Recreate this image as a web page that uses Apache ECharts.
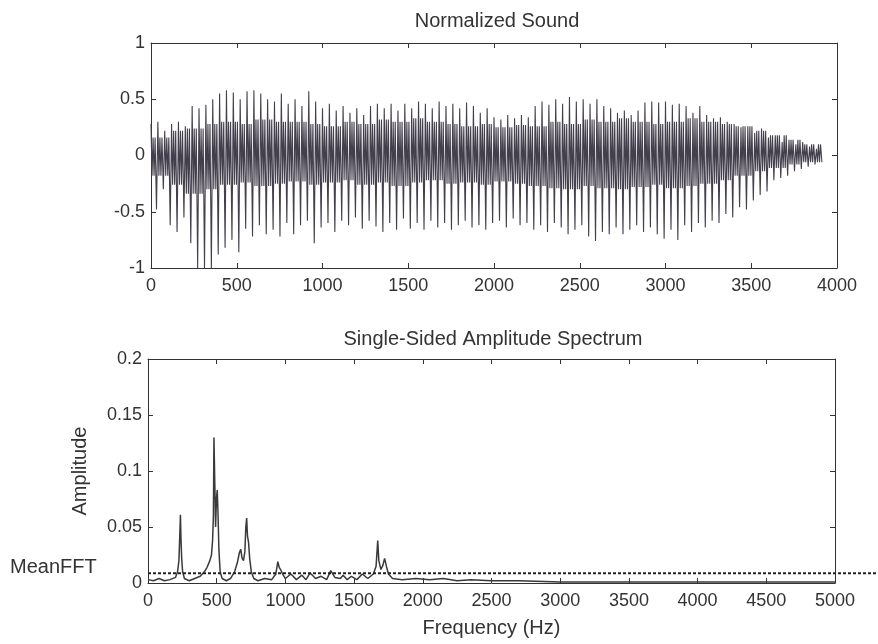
<!DOCTYPE html>
<html>
<head>
<meta charset="utf-8">
<script src="https://cdn.jsdelivr.net/npm/echarts@6/dist/echarts.min.js"></script>
<style>
html,body{margin:0;padding:0;background:#fff;}
#c{width:878px;height:644px;}
</style>
</head>
<body>
<div id="c"></div>
<script>
// ---------------- data ----------------
const soundTitle = 'Normalized Sound';
const specTitle = 'Single-Sided Amplitude Spectrum';
const SAMPLE_STEP = 40; // samples between successive pitch pulses
// positive peak of each pitch period
const waveHighs = [0.28,0.3,0.22,0.28,0.3,0.26,0.44,0.42,0.45,0.5,
  0.55,0.58,0.56,0.5,0.57,0.58,0.55,0.5,0.48,0.55,
  0.46,0.5,0.44,0.57,0.48,0.42,0.46,0.4,0.44,0.38,
  0.42,0.36,0.44,0.46,0.42,0.46,0.4,0.46,0.42,0.48,
  0.46,0.42,0.48,0.44,0.46,0.42,0.47,0.44,0.38,0.42,
  0.34,0.32,0.36,0.33,0.36,0.34,0.44,0.48,0.45,0.5,
  0.46,0.52,0.48,0.5,0.46,0.5,0.44,0.42,0.38,0.4,
  0.36,0.4,0.47,0.48,0.47,0.48,0.45,0.46,0.44,0.38,
  0.44,0.36,0.33,0.34,0.3,0.28,0.25,0.26,0.2,0.24,
  0.16,0.18,0.12,0.14,0.1,0.12,0.08,0.06];
// negative spike of each pitch period
const waveLows = [-0.48,-0.3,-0.62,-0.68,-0.55,-0.78,-1.0,-1.0,-1.0,-0.88,
  -0.82,-0.75,-0.86,-0.65,-0.72,-0.62,-0.7,-0.66,-0.72,-0.6,
  -0.7,-0.62,-0.58,-0.78,-0.64,-0.6,-0.68,-0.58,-0.62,-0.55,
  -0.65,-0.58,-0.63,-0.68,-0.6,-0.66,-0.56,-0.65,-0.6,-0.66,
  -0.58,-0.64,-0.6,-0.66,-0.62,-0.58,-0.64,-0.62,-0.66,-0.6,
  -0.58,-0.64,-0.56,-0.62,-0.6,-0.66,-0.62,-0.68,-0.6,-0.64,
  -0.7,-0.66,-0.62,-0.72,-0.76,-0.68,-0.7,-0.64,-0.7,-0.66,
  -0.62,-0.68,-0.64,-0.7,-0.74,-0.66,-0.75,-0.62,-0.68,-0.6,
  -0.64,-0.58,-0.6,-0.52,-0.55,-0.46,-0.48,-0.4,-0.35,-0.32,
  -0.22,-0.2,-0.18,-0.14,-0.12,-0.1,-0.08,-0.06];
// dense inner band, one value per 100 samples
const BAND_STEP = 100;
const bandTop = [0.16,0.22,0.24,0.28,0.3,0.28,0.32,0.3,0.3,0.28,
  0.26,0.3,0.28,0.32,0.3,0.33,0.3,0.28,0.26,0.28,
  0.25,0.27,0.26,0.3,0.28,0.32,0.3,0.33,0.3,0.28,
  0.3,0.33,0.3,0.28,0.26,0.22,0.18,0.14,0.1,0.06];
const bandBottom = [-0.18,-0.26,-0.34,-0.3,-0.26,-0.24,-0.27,-0.25,-0.23,-0.26,
  -0.24,-0.22,-0.26,-0.24,-0.27,-0.24,-0.22,-0.25,-0.24,-0.26,
  -0.23,-0.25,-0.27,-0.29,-0.3,-0.27,-0.29,-0.3,-0.28,-0.26,
  -0.29,-0.27,-0.25,-0.22,-0.18,-0.14,-0.11,-0.08,-0.06,-0.04];

const specFreq = [0,40,80,120,160,200,215,225,232,236,240,245,252,265,300,340,380,410,430,450,
  462,470,476,480,486,492,498,504,510,516,525,540,570,600,630,650,665,675,685,695,
  705,712,718,724,732,740,752,770,800,850,900,930,945,955,965,980,1000,1040,1080,1120,
  1150,1180,1220,1260,1300,1330,1360,1400,1420,1450,1480,1520,1560,1600,1640,1660,1672,1680,1695,1710,
  1722,1735,1750,1780,1850,1950,2050,2150,2250,2350,2500,2700,3000,3500,4000,4500,5000];
const specAmp = [0.003,0.002,0.004,0.002,0.003,0.005,0.01,0.02,0.045,0.061,0.04,0.022,0.01,0.004,0.002,0.004,0.006,0.01,0.014,0.02,
  0.025,0.038,0.06,0.13,0.09,0.05,0.075,0.083,0.06,0.03,0.01,0.004,0.002,0.004,0.01,0.018,0.027,0.03,0.022,0.02,
  0.028,0.05,0.058,0.042,0.036,0.022,0.01,0.004,0.002,0.004,0.003,0.008,0.019,0.014,0.012,0.008,0.004,0.008,0.003,0.007,
  0.003,0.009,0.004,0.006,0.003,0.011,0.005,0.004,0.007,0.003,0.006,0.003,0.008,0.004,0.008,0.015,0.038,0.02,0.012,0.016,
  0.022,0.015,0.008,0.004,0.003,0.004,0.003,0.004,0.002,0.003,0.002,0.002,0.001,0.001,0.001,0.001,0.001];
const meanFFT = 0.0087;

const soundXTicks = {min:0, max:4000, interval:500};
const soundYTicks = {min:-1, max:1, interval:0.5};
const specXTicks = {min:0, max:5000, interval:500};
const specYTicks = {min:0, max:0.2, interval:0.05};

// ---------------- build ----------------
const waveData = [];
for (let i = 0; i < waveHighs.length; i++) {
  const x0 = i * SAMPLE_STEP;
  const b = Math.min(bandTop.length - 1, Math.floor(x0 / BAND_STEP));
  waveData.push([x0, waveHighs[i]]);
  waveData.push([x0 + SAMPLE_STEP * 0.15, bandBottom[b]]);
  waveData.push([x0 + SAMPLE_STEP * 0.3, bandTop[b]]);
  waveData.push([x0 + SAMPLE_STEP * 0.45, bandBottom[b]]);
  waveData.push([x0 + SAMPLE_STEP * 0.6, bandTop[b]]);
  waveData.push([x0 + SAMPLE_STEP * 0.8, waveLows[i]]);
}
const specData = specFreq.map((f, i) => [f, specAmp[i]]);

const FONT = 'Liberation Sans, Arial, sans-serif';
const TXT = '#333';
const AX = '#333';
const fmt = v => String(+(+v).toFixed(2));

function xAx(grid, t, pos, labels, extra) {
  return Object.assign({
    type: 'value', gridIndex: grid, position: pos, min: t.min, max: t.max, interval: t.interval,
    axisLine: {show: true, onZero: false, lineStyle: {color: AX, width: 1}},
    axisTick: {show: true, inside: true, length: 5, lineStyle: {color: AX}},
    axisLabel: {show: labels, color: TXT, fontSize: 18, fontFamily: FONT, margin: 9, formatter: fmt},
    splitLine: {show: false}
  }, extra || {});
}
function yAx(grid, t, pos, labels, extra) {
  return Object.assign({
    type: 'value', gridIndex: grid, position: pos, min: t.min, max: t.max, interval: t.interval,
    axisLine: {show: true, onZero: false, lineStyle: {color: AX, width: 1}},
    axisTick: {show: true, inside: true, length: 5, lineStyle: {color: AX}},
    axisLabel: {show: labels, color: TXT, fontSize: 18, fontFamily: FONT, margin: 6, formatter: fmt},
    splitLine: {show: false}
  }, extra || {});
}

const chart = echarts.init(document.getElementById('c'), null, {renderer: 'canvas'});
chart.setOption({
  animation: false,
  backgroundColor: '#fff',
  textStyle: {fontFamily: FONT},
  title: [
    {text: soundTitle, left: 492, top: 6, textAlign: 'center',
     textStyle: {fontSize: 20, fontWeight: 'normal', color: TXT, fontFamily: FONT}},
    {text: specTitle, left: 488, top: 324, textAlign: 'center',
     textStyle: {fontSize: 20, fontWeight: 'normal', color: TXT, fontFamily: FONT}}
  ],
  grid: [
    {left: 151, right: 41, top: 43, bottom: 376},
    {left: 148, right: 43, top: 359, bottom: 61},
    {left: 148, right: 0, top: 359, bottom: 61}
  ],
  xAxis: [
    xAx(0, soundXTicks, 'bottom', true),
    xAx(0, soundXTicks, 'top', false),
    xAx(1, specXTicks, 'bottom', true, {
      name: 'Frequency (Hz)', nameLocation: 'middle', nameGap: 35,
      nameTextStyle: {fontSize: 20, color: TXT, fontFamily: FONT}}),
    xAx(1, specXTicks, 'top', false),
    {type: 'value', gridIndex: 2, min: 0, max: 1, show: false}
  ],
  yAxis: [
    yAx(0, soundYTicks, 'left', true),
    yAx(0, soundYTicks, 'right', false),
    yAx(1, specYTicks, 'left', true, {
      name: 'Amplitude', nameLocation: 'middle', nameGap: 58, nameRotate: 90,
      nameTextStyle: {fontSize: 20, color: TXT, fontFamily: FONT}}),
    yAx(1, specYTicks, 'right', false),
    {type: 'value', gridIndex: 2, min: specYTicks.min, max: specYTicks.max, show: false}
  ],
  graphic: [
    {type: 'text', left: 10, top: 557,
     style: {text: 'MeanFFT', fill: TXT, font: '20px ' + FONT}}
  ],
  series: [
    {type: 'line', xAxisIndex: 0, yAxisIndex: 0, data: waveData, showSymbol: false,
     lineStyle: {color: '#433f4c', width: 1.1}, clip: true},
    {type: 'line', xAxisIndex: 2, yAxisIndex: 2, data: specData, showSymbol: false,
     lineStyle: {color: '#3a3a3a', width: 1.5}},
    {type: 'line', xAxisIndex: 4, yAxisIndex: 4, data: [[0, meanFFT], [1, meanFFT]], showSymbol: false,
     lineStyle: {color: '#222', width: 2, type: [3, 2]}}
  ]
});
</script>
</body>
</html>
